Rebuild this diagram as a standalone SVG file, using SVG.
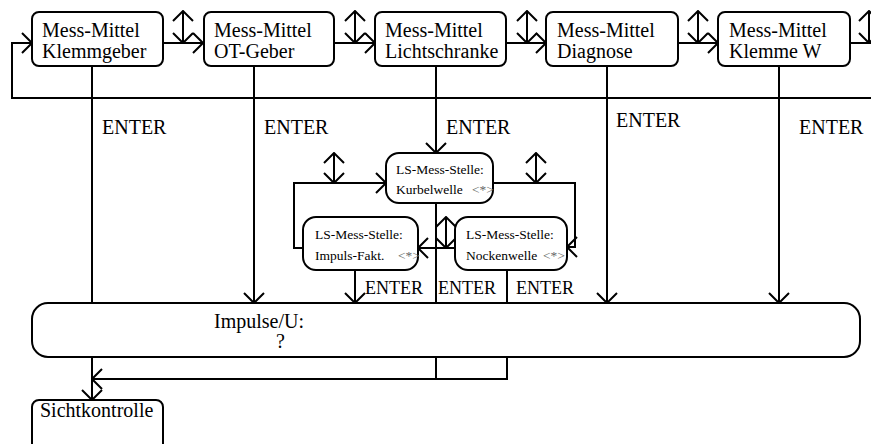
<svg xmlns="http://www.w3.org/2000/svg" width="871" height="444" viewBox="0 0 871 444">
<style>
.box{fill:#fff;stroke:#000;stroke-width:2}
.ln{fill:none;stroke:#000;stroke-width:2}
.t{font-size:20px;fill:#000}
.s{font-size:13.5px;fill:#000}
.g{fill:#666}
.e{font-size:18px;fill:#000}
</style>
<defs>
<marker id="ah" viewBox="-11 -11 12 22" refX="0" refY="0" markerWidth="12" markerHeight="22" markerUnits="userSpaceOnUse" orient="auto-start-reverse">
<path d="M-10,-10 L0,0 L-10,10" fill="none" stroke="#000" stroke-width="2"/>
</marker>
</defs>
<g id="connectors">
<path class="ln" d="M163,43 H203" marker-end="url(#ah)"/>
<path class="ln" d="M334,43 H375" marker-end="url(#ah)"/>
<path class="ln" d="M506,43 H546" marker-end="url(#ah)"/>
<path class="ln" d="M678,43 H718" marker-end="url(#ah)"/>
<path class="ln" d="M850,43 H871"/>
<path class="ln" d="M183,43 V11" marker-start="url(#ah)" marker-end="url(#ah)"/>
<path class="ln" d="M355,43 V11" marker-start="url(#ah)" marker-end="url(#ah)"/>
<path class="ln" d="M527,43 V11" marker-start="url(#ah)" marker-end="url(#ah)"/>
<path class="ln" d="M698,43 V11" marker-start="url(#ah)" marker-end="url(#ah)"/>
<path class="ln" d="M869,43 V11" marker-start="url(#ah)" marker-end="url(#ah)"/>
<path class="ln" d="M871,98 H12 V43 H32" marker-end="url(#ah)"/>
<path class="ln" d="M92,66 V303"/>
<path class="ln" d="M254,66 V303" marker-end="url(#ah)"/>
<path class="ln" d="M436,66 V153" marker-end="url(#ah)"/>
<path class="ln" d="M607,66 V303" marker-end="url(#ah)"/>
<path class="ln" d="M779,66 V303" marker-end="url(#ah)"/>
<path class="ln" d="M493,183 H575 V247 H567" marker-end="url(#ah)"/>
<path class="ln" d="M536,183 V153" marker-start="url(#ah)" marker-end="url(#ah)"/>
<path class="ln" d="M303,248 H294 V183 H386" marker-end="url(#ah)"/>
<path class="ln" d="M334,183 V153" marker-start="url(#ah)" marker-end="url(#ah)"/>
<path class="ln" d="M455,248 H418" marker-end="url(#ah)"/>
<path class="ln" d="M446,248 V217" marker-start="url(#ah)" marker-end="url(#ah)"/>
<path class="ln" d="M355,270 V303" marker-end="url(#ah)"/>
<path class="ln" d="M436,203 V303"/>
<path class="ln" d="M507,270 V303"/>
<path class="ln" d="M436,357 V379"/>
<path class="ln" d="M507,357 V379 H92" marker-end="url(#ah)"/>
<path class="ln" d="M92,357 V400" marker-end="url(#ah)"/>
</g>
<g font-family="'Liberation Serif', 'Times New Roman', serif">
<g id="mm-klemmgeber">
<rect class="box" x="32" y="12" width="131" height="54" rx="7"/>
<text class="t" x="42" y="37">Mess-Mittel</text>
<text class="t" x="42" y="58">Klemmgeber</text>
</g>
<g id="mm-otgeber">
<rect class="box" x="204" y="12" width="130" height="54" rx="7"/>
<text class="t" x="214" y="37">Mess-Mittel</text>
<text class="t" x="214" y="58">OT-Geber</text>
</g>
<g id="mm-lichtschranke">
<rect class="box" x="375" y="12" width="131" height="54" rx="7"/>
<text class="t" x="385" y="37">Mess-Mittel</text>
<text class="t" x="385" y="58">Lichtschranke</text>
</g>
<g id="mm-diagnose">
<rect class="box" x="546" y="12" width="132" height="54" rx="7"/>
<text class="t" x="557" y="37">Mess-Mittel</text>
<text class="t" x="557" y="58">Diagnose</text>
</g>
<g id="mm-klemmew">
<rect class="box" x="718" y="12" width="132" height="54" rx="7"/>
<text class="t" x="729" y="37">Mess-Mittel</text>
<text class="t" x="729" y="58">Klemme W</text>
</g>
<g id="labels">
<text class="t" x="102" y="134">ENTER</text>
<text class="t" x="264" y="134">ENTER</text>
<text class="t" x="446" y="134">ENTER</text>
<text class="t" x="616" y="127">ENTER</text>
<text class="t" x="799" y="134">ENTER</text>
<text class="e" x="365" y="294">ENTER</text>
<text class="e" x="438" y="294">ENTER</text>
<text class="e" x="516" y="294">ENTER</text>
</g>
<g id="ls-kurbelwelle">
<rect class="box" x="386" y="153" width="107" height="50" rx="13"/>
<text class="s" x="396" y="174">LS-Mess-Stelle:</text>
<text class="s" x="396" y="194">Kurbelwelle</text>
<text class="s g" x="472" y="194">&lt;*&gt;</text>
</g>
<g id="ls-impulsfakt">
<rect class="box" x="303" y="217" width="115" height="53" rx="13"/>
<text class="s" x="315" y="239">LS-Mess-Stelle:</text>
<text class="s" x="315" y="260">Impuls-Fakt.</text>
<text class="s g" x="398" y="260">&lt;*&gt;</text>
</g>
<g id="ls-nockenwelle">
<rect class="box" x="455" y="217" width="112" height="53" rx="13"/>
<text class="s" x="466" y="239">LS-Mess-Stelle:</text>
<text class="s" x="466" y="260">Nockenwelle</text>
<text class="s g" x="543" y="260">&lt;*&gt;</text>
</g>
<g id="impulse">
<rect class="box" x="32" y="303" width="828" height="54" rx="16"/>
<text class="t" x="214" y="328">Impulse/U:</text>
<text class="t" x="276" y="348">?</text>
</g>
<g id="sichtkontrolle">
<rect class="box" x="32" y="400" width="131" height="60" rx="7"/>
<text class="t" x="40" y="417">Sichtkontrolle</text>
</g>
</g>
</svg>
